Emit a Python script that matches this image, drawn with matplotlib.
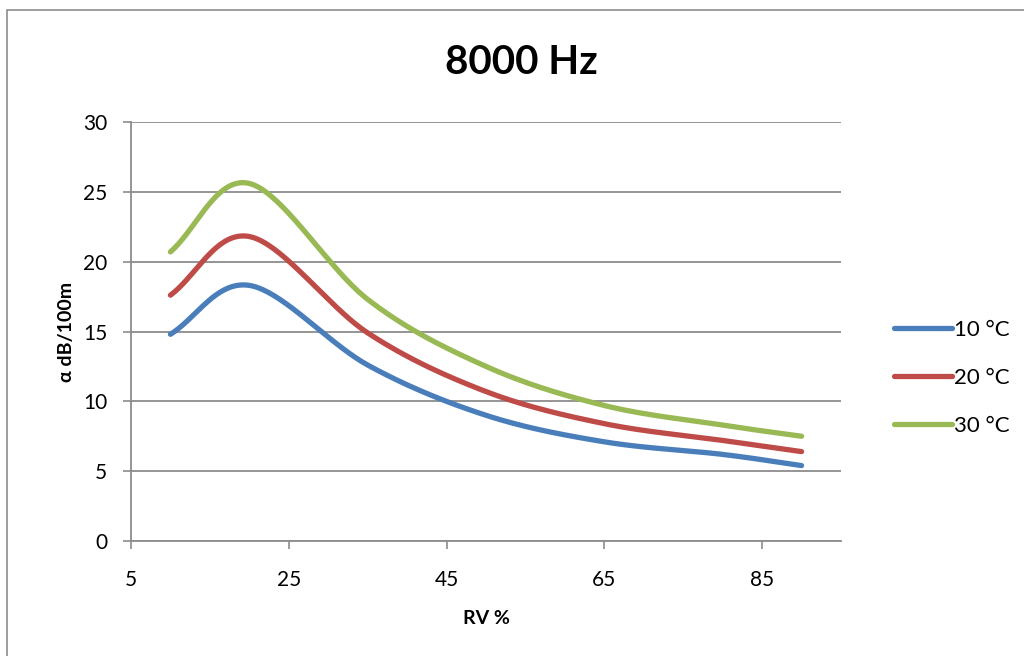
import numpy as np
import matplotlib
matplotlib.use("Agg")
import matplotlib.pyplot as plt
from matplotlib.patches import Rectangle

# relative humidity (%) and attenuation alpha (dB/100m) at 8000 Hz
rv = [10, 20, 35, 50, 65, 80, 90]
t10 = [14.8, 18.3, 12.6, 9.0, 7.1, 6.2, 5.4]
t20 = [17.6, 21.8, 14.9, 10.7, 8.4, 7.2, 6.4]
t30 = [20.7, 25.6, 17.3, 12.5, 9.7, 8.3, 7.5]
labels = ["10 °C", "20 °C", "30 °C"]
colors = ["#4A7EBB", "#BE4B48", "#98B954"]

plt.rcParams['font.family'] = ['Lato', 'DejaVu Sans']


def smooth(x, y, n=40):
    # Catmull-Rom spline through the points, like Excel "smoothed line"
    x = np.asarray(x, float)
    y = np.asarray(y, float)
    px = np.concatenate([[2 * x[0] - x[1]], x, [2 * x[-1] - x[-2]]])
    py = np.concatenate([[2 * y[0] - y[1]], y, [2 * y[-1] - y[-2]]])
    xs, ys = [], []
    t = np.linspace(0, 1, n)
    for i in range(1, len(px) - 2):
        for p, out in ((px, xs), (py, ys)):
            p0, p1, p2, p3 = p[i - 1], p[i], p[i + 1], p[i + 2]
            out.extend(0.5 * (2 * p1 + (-p0 + p2) * t
                              + (2 * p0 - 5 * p1 + 4 * p2 - p3) * t ** 2
                              + (-p0 + 3 * p1 - 3 * p2 + p3) * t ** 3))
    return np.array(xs), np.array(ys)


fig = plt.figure(figsize=(10.24, 6.56), dpi=100)
ax = fig.add_axes([131 / 1024, 1 - 541 / 656, (841 - 131) / 1024, (541 - 122) / 656])

# chart border
fig.patches.append(Rectangle((7 / 1024, -0.1), 1.2, 1 - 10 / 656 + 0.1,
                             transform=fig.transFigure, fill=False,
                             ec="#8c8c8c", lw=1.2))

for ys, lab, c in zip([t10, t20, t30], labels, colors):
    sx, sy = smooth(rv, ys)
    ax.plot(sx, sy, color=c, lw=3.8, solid_capstyle="round", label=lab)

ax.set_xlim(5, 95)
ax.set_ylim(0, 30)
ax.set_xticks([5, 25, 45, 65, 85])
ax.set_yticks(range(0, 31, 5))
ax.grid(axis="y", color="#8c8c8c", lw=1.3)
ax.set_axisbelow(True)
for s in ["top", "right"]:
    ax.spines[s].set_visible(False)
for s in ["left", "bottom"]:
    ax.spines[s].set_color("#8c8c8c")
    ax.spines[s].set_linewidth(1.3)
ax.tick_params(colors="#8c8c8c", labelcolor="black", labelsize=15,
               length=6, width=1.2)
ax.tick_params(axis="x", pad=15)
ax.tick_params(axis="y", pad=11)

fig.text(521 / 1024, 1 - 62 / 656, "8000 Hz", fontsize=29, fontweight="bold",
         ha="center", va="center")
ax.set_xlabel("RV %", fontsize=14, fontweight="bold", labelpad=14)
ax.set_ylabel("α dB/100m", fontsize=14, fontweight="bold", labelpad=6)

ax.legend(loc="center left", bbox_to_anchor=(874 / 1024, 1 - 378 / 656),
          bbox_transform=fig.transFigure, frameon=False,
          fontsize=16, handlelength=2.6, handletextpad=0.1, labelspacing=1.25)

fig.savefig("out.png", dpi=100)
